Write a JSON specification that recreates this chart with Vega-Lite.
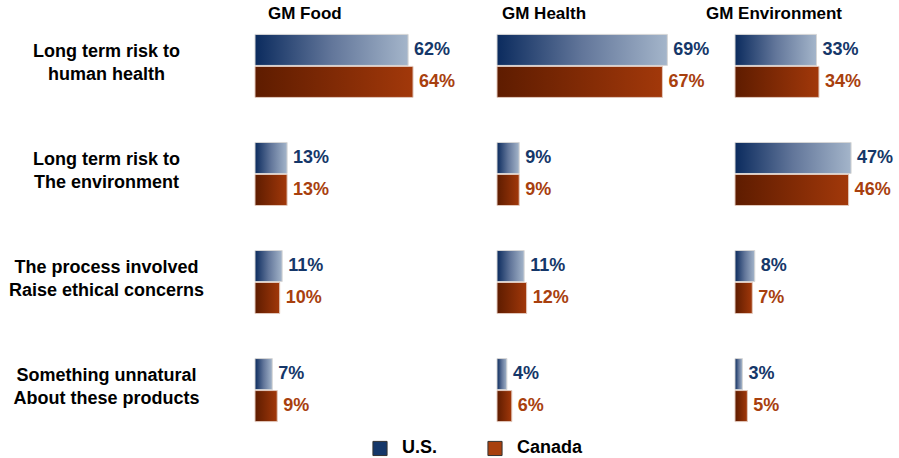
{
  "$schema": "https://vega.github.io/schema/vega-lite/v6.json",
  "background": "white",
  "padding": {"left": 8, "top": 5, "right": 0, "bottom": 0},
  "spacing": 0,
  "bounds": "flush",
  "config": {
    "view": {"stroke": null},
    "font": "Liberation Sans",
    "title": {"fontSize": 17, "fontWeight": "bold", "font": "Liberation Sans", "color": "#000000", "anchor": "start", "frame": "group", "offset": 6}
  },
  "data": {
    "values": [
      {"panel": "GM Food", "item": "Long term risk to\nhuman health", "country": "U.S.", "value": 0.62},
      {"panel": "GM Food", "item": "Long term risk to\nhuman health", "country": "Canada", "value": 0.64},
      {"panel": "GM Food", "item": "Long term risk to\nThe environment", "country": "U.S.", "value": 0.13},
      {"panel": "GM Food", "item": "Long term risk to\nThe environment", "country": "Canada", "value": 0.13},
      {"panel": "GM Food", "item": "The process involved\nRaise ethical concerns", "country": "U.S.", "value": 0.11},
      {"panel": "GM Food", "item": "The process involved\nRaise ethical concerns", "country": "Canada", "value": 0.10},
      {"panel": "GM Food", "item": "Something unnatural\nAbout these products", "country": "U.S.", "value": 0.07},
      {"panel": "GM Food", "item": "Something unnatural\nAbout these products", "country": "Canada", "value": 0.09},
      {"panel": "GM Health", "item": "Long term risk to\nhuman health", "country": "U.S.", "value": 0.69},
      {"panel": "GM Health", "item": "Long term risk to\nhuman health", "country": "Canada", "value": 0.67},
      {"panel": "GM Health", "item": "Long term risk to\nThe environment", "country": "U.S.", "value": 0.09},
      {"panel": "GM Health", "item": "Long term risk to\nThe environment", "country": "Canada", "value": 0.09},
      {"panel": "GM Health", "item": "The process involved\nRaise ethical concerns", "country": "U.S.", "value": 0.11},
      {"panel": "GM Health", "item": "The process involved\nRaise ethical concerns", "country": "Canada", "value": 0.12},
      {"panel": "GM Health", "item": "Something unnatural\nAbout these products", "country": "U.S.", "value": 0.04},
      {"panel": "GM Health", "item": "Something unnatural\nAbout these products", "country": "Canada", "value": 0.06},
      {"panel": "GM Environment", "item": "Long term risk to\nhuman health", "country": "U.S.", "value": 0.33},
      {"panel": "GM Environment", "item": "Long term risk to\nhuman health", "country": "Canada", "value": 0.34},
      {"panel": "GM Environment", "item": "Long term risk to\nThe environment", "country": "U.S.", "value": 0.47},
      {"panel": "GM Environment", "item": "Long term risk to\nThe environment", "country": "Canada", "value": 0.46},
      {"panel": "GM Environment", "item": "The process involved\nRaise ethical concerns", "country": "U.S.", "value": 0.08},
      {"panel": "GM Environment", "item": "The process involved\nRaise ethical concerns", "country": "Canada", "value": 0.07},
      {"panel": "GM Environment", "item": "Something unnatural\nAbout these products", "country": "U.S.", "value": 0.03},
      {"panel": "GM Environment", "item": "Something unnatural\nAbout these products", "country": "Canada", "value": 0.05}
    ]
  },
  "resolve": {"scale": {"x": "independent", "y": "independent"}, "legend": {"color": "independent"}},
  "hconcat": [
    {
      "width": 242, "height": 398,
      "title": {"text": "GM Food", "dx": 13},
      "transform": [{"filter": "datum.panel === 'GM Food'"}],
      "encoding": {
        "y": {"field": "item", "type": "nominal",
          "sort": ["Long term risk to\nhuman health", "Long term risk to\nThe environment", "The process involved\nRaise ethical concerns", "Something unnatural\nAbout these products"],
          "scale": {"paddingInner": 0.4167, "paddingOuter": 0.05},
          "axis": {"title": null, "domain": false, "ticks": false, "labelAlign": "center", "labelBaseline": "middle", "labelPadding": 149, "labelFontSize": 18, "labelFontWeight": "bold", "labelFont": "Liberation Sans", "labelColor": "#000000", "labelLineHeight": 23, "labelLimit": 400, "labelExpr": "split(datum.label, '\\n')", "labelOffset": -14}},
        "yOffset": {"field": "country", "sort": ["U.S.", "Canada"], "scale": {"paddingInner": 0.03}},
        "x": {"field": "value", "type": "quantitative", "scale": {"domain": [0, 0.98]}, "axis": null}
      },
      "layer": [
        {"transform": [{"filter": "datum.country === 'U.S.'"}],
         "mark": {"type": "bar", "stroke": "#d6d6d6", "strokeWidth": 1, "color": {"gradient": "linear", "x1": 0, "x2": 1, "y1": 0, "y2": 0, "stops": [{"offset": 0, "color": "#0b2b5e"}, {"offset": 0.5, "color": "#62769a"}, {"offset": 1, "color": "#a4b5ca"}]}}},
        {"transform": [{"filter": "datum.country === 'Canada'"}],
         "mark": {"type": "bar", "stroke": "#e2c8bc", "strokeWidth": 1, "color": {"gradient": "linear", "x1": 0, "x2": 1, "y1": 0, "y2": 0, "stops": [{"offset": 0, "color": "#5e1c00"}, {"offset": 1, "color": "#a2380a"}]}}},
        {"mark": {"type": "text", "align": "left", "baseline": "middle", "dx": 6, "fontSize": 18, "fontWeight": "bold", "font": "Liberation Sans"},
         "encoding": {"text": {"field": "value", "type": "quantitative", "format": ".0%"},
           "color": {"field": "country", "type": "nominal", "scale": {"domain": ["U.S.", "Canada"], "range": ["#153769", "#a8400e"]}, "legend": null}}}
      ]
    },
    {
      "width": 238, "height": 398,
      "title": {"text": "GM Health", "dx": 5},
      "transform": [{"filter": "datum.panel === 'GM Health'"}],
      "encoding": {
        "y": {"field": "item", "type": "nominal",
          "sort": ["Long term risk to\nhuman health", "Long term risk to\nThe environment", "The process involved\nRaise ethical concerns", "Something unnatural\nAbout these products"],
          "scale": {"paddingInner": 0.4167, "paddingOuter": 0.05}, "axis": null},
        "yOffset": {"field": "country", "sort": ["U.S.", "Canada"], "scale": {"paddingInner": 0.03}},
        "x": {"field": "value", "type": "quantitative", "scale": {"domain": [0, 0.964]}, "axis": null}
      },
      "layer": [
        {"transform": [{"filter": "datum.country === 'U.S.'"}],
         "mark": {"type": "bar", "stroke": "#d6d6d6", "strokeWidth": 1, "color": {"gradient": "linear", "x1": 0, "x2": 1, "y1": 0, "y2": 0, "stops": [{"offset": 0, "color": "#0b2b5e"}, {"offset": 0.5, "color": "#62769a"}, {"offset": 1, "color": "#a4b5ca"}]}}},
        {"transform": [{"filter": "datum.country === 'Canada'"}],
         "mark": {"type": "bar", "stroke": "#e2c8bc", "strokeWidth": 1, "color": {"gradient": "linear", "x1": 0, "x2": 1, "y1": 0, "y2": 0, "stops": [{"offset": 0, "color": "#5e1c00"}, {"offset": 1, "color": "#a2380a"}]}}},
        {"mark": {"type": "text", "align": "left", "baseline": "middle", "dx": 6, "fontSize": 18, "fontWeight": "bold", "font": "Liberation Sans"},
         "encoding": {"text": {"field": "value", "type": "quantitative", "format": ".0%"},
           "color": {"field": "country", "type": "nominal", "scale": {"domain": ["U.S.", "Canada"], "range": ["#153769", "#a8400e"]},
             "legend": {"title": null, "orient": "none", "direction": "horizontal", "legendX": -126, "legendY": 410, "symbolType": "square", "symbolSize": 200, "symbolStrokeColor": "#333333", "symbolStrokeWidth": 1, "symbolOpacity": 1, "labelFontSize": 18, "labelFontWeight": "bold", "labelFont": "Liberation Sans", "labelColor": "#000000", "labelOffset": 13, "columnPadding": 47}}}}
      ]
    },
    {
      "width": 164, "height": 398,
      "title": {"text": "GM Environment", "dx": -29},
      "transform": [{"filter": "datum.panel === 'GM Environment'"}],
      "encoding": {
        "y": {"field": "item", "type": "nominal",
          "sort": ["Long term risk to\nhuman health", "Long term risk to\nThe environment", "The process involved\nRaise ethical concerns", "Something unnatural\nAbout these products"],
          "scale": {"paddingInner": 0.4167, "paddingOuter": 0.05}, "axis": null},
        "yOffset": {"field": "country", "sort": ["U.S.", "Canada"], "scale": {"paddingInner": 0.03}},
        "x": {"field": "value", "type": "quantitative", "scale": {"domain": [0, 0.664]}, "axis": null}
      },
      "layer": [
        {"transform": [{"filter": "datum.country === 'U.S.'"}],
         "mark": {"type": "bar", "stroke": "#d6d6d6", "strokeWidth": 1, "color": {"gradient": "linear", "x1": 0, "x2": 1, "y1": 0, "y2": 0, "stops": [{"offset": 0, "color": "#0b2b5e"}, {"offset": 0.5, "color": "#62769a"}, {"offset": 1, "color": "#a4b5ca"}]}}},
        {"transform": [{"filter": "datum.country === 'Canada'"}],
         "mark": {"type": "bar", "stroke": "#e2c8bc", "strokeWidth": 1, "color": {"gradient": "linear", "x1": 0, "x2": 1, "y1": 0, "y2": 0, "stops": [{"offset": 0, "color": "#5e1c00"}, {"offset": 1, "color": "#a2380a"}]}}},
        {"mark": {"type": "text", "align": "left", "baseline": "middle", "dx": 6, "fontSize": 18, "fontWeight": "bold", "font": "Liberation Sans"},
         "encoding": {"text": {"field": "value", "type": "quantitative", "format": ".0%"},
           "color": {"field": "country", "type": "nominal", "scale": {"domain": ["U.S.", "Canada"], "range": ["#153769", "#a8400e"]}, "legend": null}}}
      ]
    }
  ]
}
